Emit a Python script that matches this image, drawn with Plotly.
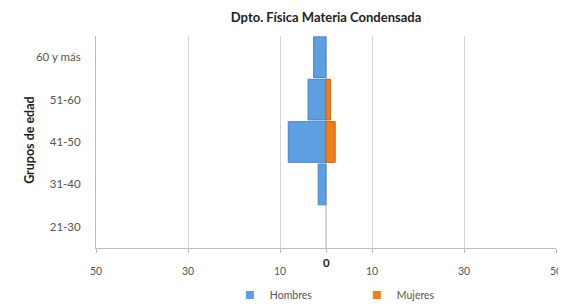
import plotly.graph_objects as go

categories = ["21-30", "31-40", "41-50", "51-60", "60 y más"]
hombres = [0, 1.7, 8.2, 3.9, 2.7]
mujeres = [0, 0, 2, 1, 0]
tick_vals = [-50, -30, -10, 0, 10, 30, 50]
tick_text = ["50", "30", "10", "", "10", "30", "50"]

blue, blue_edge = "#5E9FE2", "#4585CC"
orange, orange_edge = "#F07F1A", "#C8640E"

fig = go.Figure()
fig.add_trace(go.Bar(
    y=categories, x=[-v if v else None for v in hombres], orientation="h", name="Hombres",
    marker=dict(color=blue, line=dict(color=blue_edge, width=1)), showlegend=False,
))
fig.add_trace(go.Bar(
    y=categories, x=[v if v else None for v in mujeres], orientation="h", name="Mujeres",
    marker=dict(color=orange, line=dict(color=orange_edge, width=1)), showlegend=False,
))
# legend entries with small square swatches
for name, col in [("Hombres", blue), ("Mujeres", orange)]:
    fig.add_trace(go.Scatter(x=[None], y=[None], mode="markers", name=name,
                             marker=dict(symbol="square", size=8, color=col)))

font = "Lato, Open Sans, sans-serif"
fig.update_layout(
    width=558, height=299,
    margin=dict(l=88, r=10, t=28, b=59, autoexpand=False),
    paper_bgcolor="white", plot_bgcolor="white",
    barmode="relative", bargap=0.04,
    title=dict(text="<b>Dpto. Física Materia Condensada</b>", x=0.57, xanchor="center",
               y=0.967, yanchor="middle", font=dict(family=font, size=13, color="#222")),
    font=dict(family=font, size=10, color="#555"),
    showlegend=True,
    legend=dict(orientation="h", x=0.291, xanchor="left", y=-0.222, yanchor="middle",
                font=dict(size=10.5, color="#555"), traceorder="normal", itemwidth=30,
                entrywidth=82, entrywidthmode="pixels"),
    xaxis=dict(range=[-50, 50], tickvals=tick_vals, ticktext=tick_text, automargin=False,
               showgrid=True, gridcolor="#d4d4d4", gridwidth=1, zeroline=True,
               zerolinecolor="#d4d4d4", showline=True, linecolor="#bdbdbd",
               ticks="outside", ticklen=4, tickcolor="#bdbdbd", ticklabelstandoff=9,
               ticklabeloverflow="allow",
               tickfont=dict(size=10.5, color="#555")),
    yaxis=dict(categoryorder="array", categoryarray=categories, automargin=False,
               showgrid=False, showline=True, linecolor="#bdbdbd", ticks="",
               ticklabelstandoff=12,
               tickfont=dict(size=11.5, color="#555")),
)
fig.add_annotation(x=-0.1435, y=0.51, xref="paper", yref="paper", text="<b>Grupos de edad</b>",
                   textangle=-90, showarrow=False, xanchor="center", yanchor="middle",
                   font=dict(size=12.5, color="#222"))
fig.add_annotation(x=0, y=-0.07, xref="x", yref="paper", text="<b>0</b>",
                   showarrow=False, font=dict(size=11.5, color="#222"), yanchor="middle")
fig.write_html("out.html")
